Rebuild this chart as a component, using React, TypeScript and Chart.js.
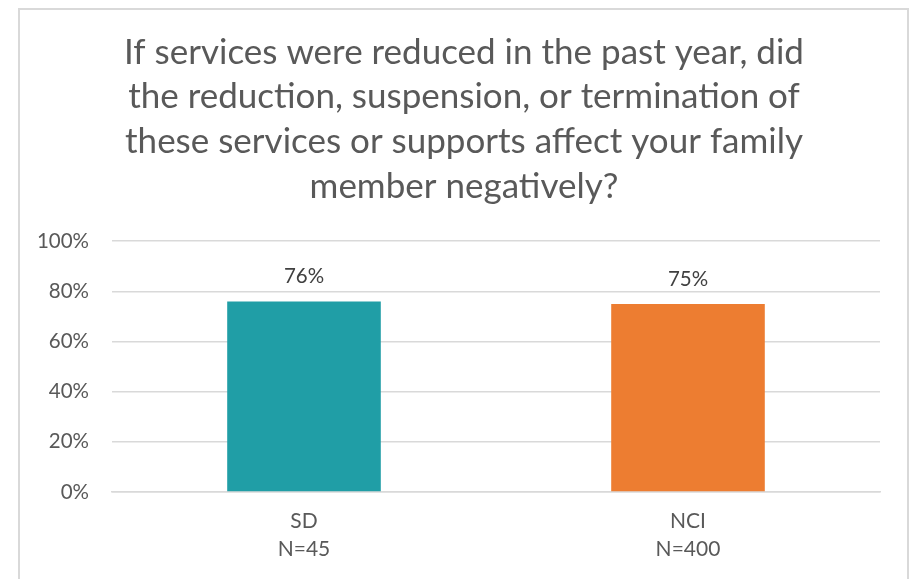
import React, { useEffect, useRef } from "react";
import { Chart, registerables } from "chart.js";

Chart.register(...registerables);

const titleLines = [
  "If services were reduced in the past year, did",
  "the reduction, suspension, or termination of",
  "these services or supports affect your family",
  "member negatively?",
];
const categories = [
  ["SD", "N=45"],
  ["NCI", "N=400"],
];
const values = [76, 75];
const barColors = ["#209EA6", "#ED7D31"];
const yTicks = [0, 20, 40, 60, 80, 100];

const FONT = "Lato, 'Open Sans', sans-serif";
const TEXT = "#595959";

const dataLabelPlugin = {
  id: "dataLabels",
  afterDatasetsDraw(chart: any) {
    const ctx = chart.ctx;
    const meta = chart.getDatasetMeta(0);
    ctx.save();
    ctx.font = `20.5px ${FONT}`;
    ctx.textAlign = "center";
    ctx.textBaseline = "middle";
    meta.data.forEach((bar: any, i: number) => {
      const txt = `${values[i]}%`;
      const w = ctx.measureText(txt).width + 18;
      const h = 24;
      const cy = bar.y - 25;
      ctx.fillStyle = "#ffffff";
      ctx.fillRect(bar.x - w / 2, cy - h / 2, w, h);
      ctx.fillStyle = "#404040";
      ctx.fillText(txt, bar.x, cy);
    });
    ctx.restore();
  },
};

export default function App() {
  const ref = useRef<HTMLCanvasElement | null>(null);
  useEffect(() => {
    if (!ref.current) return;
    const chart = new Chart(ref.current, {
      type: "bar",
      data: {
        labels: categories,
        datasets: [
          {
            data: values,
            backgroundColor: barColors,
            barPercentage: 0.4,
            categoryPercentage: 1,
          },
        ],
      },
      options: {
        responsive: false,
        animation: false,
        layout: { padding: { left: 34, right: 16, top: 0, bottom: 0 } },
        plugins: {
          legend: { display: false },
          tooltip: { enabled: false },
          title: {
            display: true,
            text: titleLines,
            color: TEXT,
            font: { family: FONT, size: 35, weight: "normal", lineHeight: 1.28 },
            padding: { top: 30, bottom: 32 },
          },
        },
        scales: {
          x: {
            grid: { display: false, drawTicks: false },
            border: { display: true, color: "#d9d9d9", width: 1.5 },
            ticks: {
              color: TEXT,
              font: { family: FONT, size: 21, lineHeight: 1.3 },
              padding: 16,
            },
            afterFit(scale: any) {
              scale.height = 87;
            },
          },
          y: {
            min: 0,
            max: 100,
            afterBuildTicks(scale: any) {
              scale.ticks = yTicks.map((v) => ({ value: v }));
            },
            grid: { color: "#d9d9d9", lineWidth: 1.5, drawTicks: false },
            border: { display: false },
            ticks: {
              color: TEXT,
              font: { family: FONT, size: 20.5 },
              padding: 23,
              callback: (v: any) => `${v}%`,
            },
            afterFit(scale: any) {
              scale.width = 78;
            },
          },
          y2: {
            position: "right",
            display: true,
            grid: { display: false, drawTicks: false },
            border: { display: false },
            ticks: { display: false },
            afterFit(scale: any) {
              scale.width = 14;
            },
          },
        },
      },
      plugins: [dataLabelPlugin],
    });
    return () => chart.destroy();
  }, []);
  return (
    <div
      style={{
        position: "absolute",
        left: 0,
        top: 0,
        width: 910,
        height: 579,
        overflow: "hidden",
        background: "#ffffff",
      }}
    >
      <div
        style={{
          position: "absolute",
          left: 18,
          top: 8,
          width: 891,
          height: 640,
          border: "2px solid #d9d9d9",
          boxSizing: "border-box",
        }}
      />
      <canvas
        ref={ref}
        width={910}
        height={579}
        style={{ position: "absolute", left: 0, top: 0 }}
      />
    </div>
  );
}
